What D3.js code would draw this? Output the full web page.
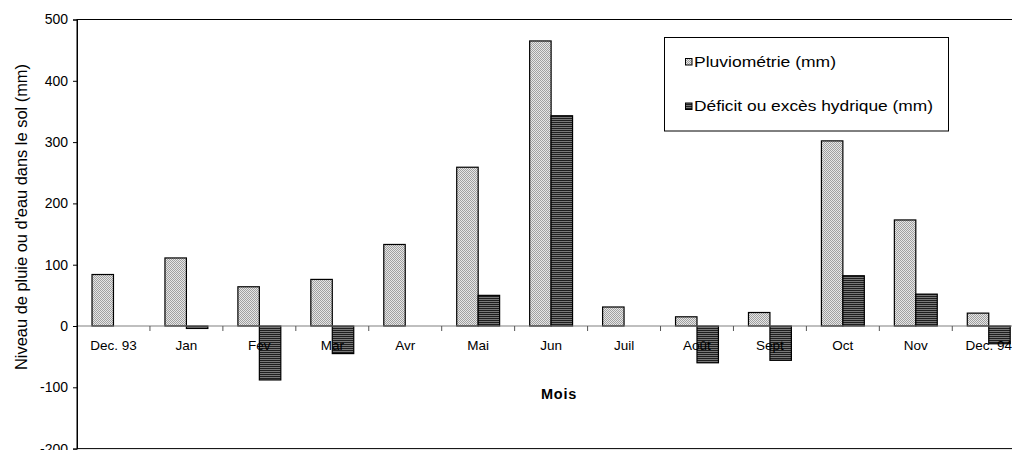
<!DOCTYPE html>
<html>
<head>
<meta charset="utf-8">
<script src="https://cdn.jsdelivr.net/npm/d3@7"></script>
<style>
  html, body { margin: 0; padding: 0; background: #fff; }
  svg { display: block; font-family: "Liberation Sans", Arial, sans-serif; }
</style>
</head>
<body>
<svg id="chart" width="1012" height="450"></svg>
<script>
const categories = ["Dec. 93", "Jan", "Fev", "Mar", "Avr", "Mai", "Jun", "Juil", "Août", "Sept", "Oct", "Nov", "Dec. 94"];
const pluviometrie = [84, 111, 64, 76, 133, 259, 465, 31, 15, 22, 302, 173, 21];
const deficit = [0, -4, -88, -45, 0, 50, 343, 0, -60, -56, 82, 52, -29];
const yTicks = [-200, -100, 0, 100, 200, 300, 400, 500];
const seriesNames = ["Pluviométrie (mm)", "Déficit ou excès hydrique (mm)"];

const svg = d3.select("#chart");
const plotLeft = 77, plotTop = 19.5, plotBottom = 448.6, catStep = 72.94;
const plotRight = plotLeft + catStep * categories.length;

const defs = svg.append("defs");
const p1 = defs.append("pattern").attr("id", "patP").attr("patternUnits", "userSpaceOnUse")
  .attr("width", 2).attr("height", 2);
p1.append("rect").attr("width", 2).attr("height", 2).attr("fill", "#e6e6e6");
p1.append("rect").attr("x", 0).attr("y", 0).attr("width", 1).attr("height", 1).attr("fill", "#a0a0a0");
p1.append("rect").attr("x", 1).attr("y", 1).attr("width", 1).attr("height", 1).attr("fill", "#a0a0a0");
const p2 = defs.append("pattern").attr("id", "patD").attr("patternUnits", "userSpaceOnUse")
  .attr("width", 2).attr("height", 2);
p2.append("rect").attr("width", 2).attr("height", 2).attr("fill", "#787878");
p2.append("rect").attr("width", 2).attr("height", 1).attr("fill", "#1e1e1e");

const x = d3.scaleBand().domain(categories).range([plotLeft, plotRight]).paddingInner(0).paddingOuter(0);
const xs = d3.scaleBand().domain([0, 1]).range([0, x.bandwidth()]).paddingInner(0).paddingOuter(0.7);
const y = d3.scaleLinear().domain([-200, 500]).range([plotBottom, plotTop]);

// plot area border
svg.append("rect").attr("x", plotLeft).attr("y", plotTop).attr("width", plotRight - plotLeft).attr("height", plotBottom - plotTop)
  .attr("fill", "none").attr("stroke", "#000").attr("stroke-width", 1);

const data = [];
categories.forEach((c, i) => {
  data.push({ c, s: 0, v: pluviometrie[i] });
  if (deficit[i] !== 0) data.push({ c, s: 1, v: deficit[i] });
});

svg.append("g").selectAll("rect").data(data).join("rect")
  .attr("x", d => x(d.c) + xs(d.s))
  .attr("width", xs.bandwidth())
  .attr("y", d => y(Math.max(0, d.v)))
  .attr("height", d => Math.abs(y(d.v) - y(0)))
  .attr("fill", d => d.s === 0 ? "url(#patP)" : "url(#patD)")
  .attr("stroke", "#000").attr("stroke-width", 1.2);

// zero line with category ticks
svg.append("line").attr("x1", plotLeft).attr("x2", plotRight).attr("y1", y(0)).attr("y2", y(0))
  .attr("stroke", "#808080").attr("stroke-width", 1.2);
svg.append("g").selectAll("line").data(categories.slice(1)).join("line")
  .attr("x1", d => x(d)).attr("x2", d => x(d))
  .attr("y1", y(0)).attr("y2", y(0) + 5)
  .attr("stroke", "#555").attr("stroke-width", 1);

const xAxis = svg.append("g").attr("transform", `translate(0,${y(0)})`)
  .call(d3.axisBottom(x).tickSize(0).tickPadding(14.3));
xAxis.select(".domain").remove();
xAxis.selectAll("text").attr("font-size", 13.5).attr("fill", "#000")
  .attr("font-family", "Liberation Sans, Arial, sans-serif");

const yAxis = svg.append("g").attr("transform", `translate(${plotLeft},0)`)
  .call(d3.axisLeft(y).tickValues(yTicks).tickSize(4).tickPadding(5).tickFormat(d => String(d)));
yAxis.select(".domain").attr("stroke", "#000");
yAxis.selectAll("line").attr("stroke", "#000");
yAxis.selectAll("text").attr("font-size", 14).attr("fill", "#000")
  .attr("font-family", "Liberation Sans, Arial, sans-serif");

// axis titles
svg.append("text").attr("transform", "translate(27,217) rotate(-90)")
  .attr("text-anchor", "middle").attr("font-size", 16).attr("fill", "#000")
  .attr("textLength", 306).attr("lengthAdjust", "spacingAndGlyphs")
  .text("Niveau de pluie ou d'eau dans le sol (mm)");
svg.append("text").attr("x", 559).attr("y", 399).attr("text-anchor", "middle")
  .attr("font-size", 14.5).attr("font-weight", "bold").attr("letter-spacing", 0.8).attr("fill", "#000")
  .text("Mois");

// legend
const lg = svg.append("g");
lg.append("rect").attr("x", 664.5).attr("y", 37.5).attr("width", 284).attr("height", 93.5)
  .attr("fill", "#fff").attr("stroke", "#000").attr("stroke-width", 1);
const ly = [66.5, 111];
const llen = [142, 239];
seriesNames.forEach((n, i) => {
  lg.append("rect").attr("x", 685.5).attr("y", ly[i] - 8).attr("width", 6.5).attr("height", 6.5)
    .attr("fill", i === 0 ? "url(#patP)" : "url(#patD)").attr("stroke", "#000").attr("stroke-width", 1);
  lg.append("text").attr("x", 694).attr("y", ly[i]).attr("font-size", 15.5).attr("fill", "#000")
    .attr("textLength", llen[i]).attr("lengthAdjust", "spacingAndGlyphs").text(n);
});
</script>
</body>
</html>
